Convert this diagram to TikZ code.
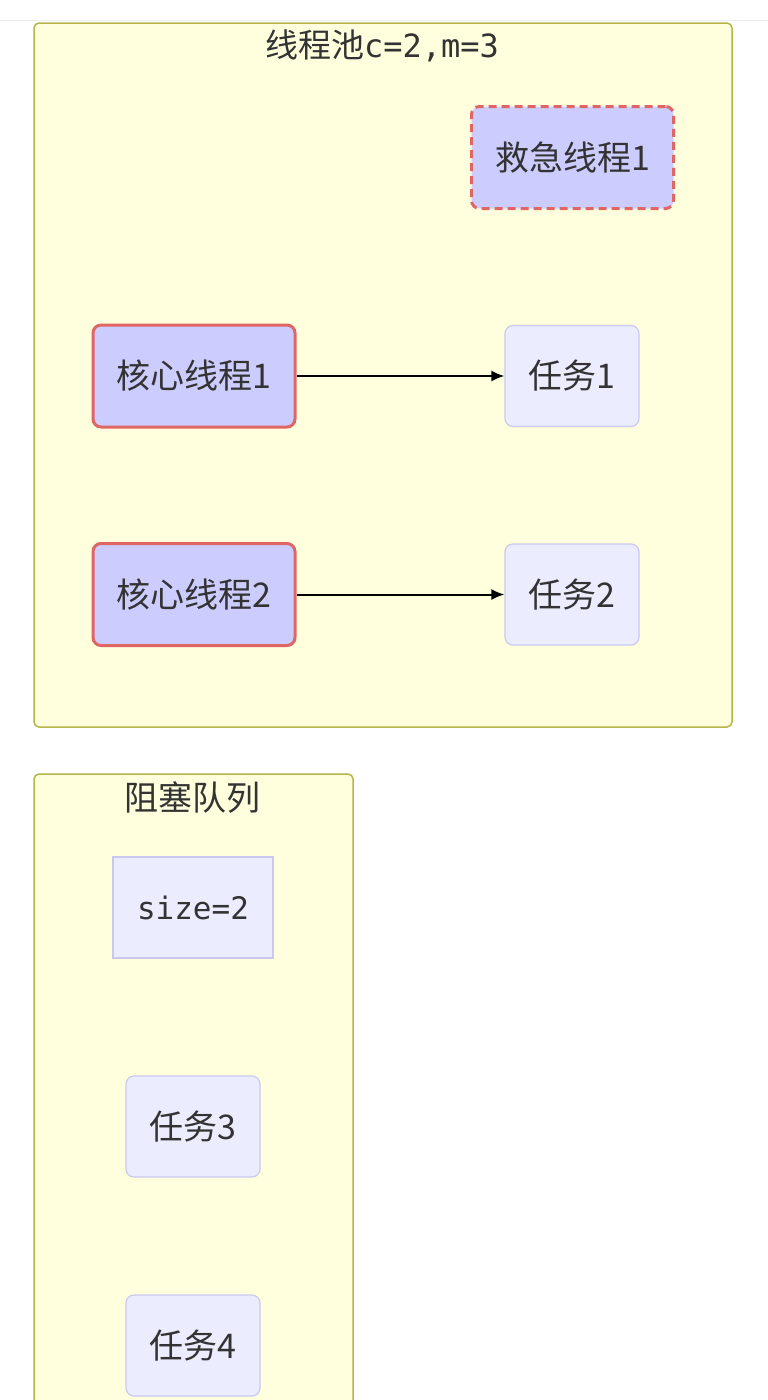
\documentclass[tikz,border=0pt]{standalone}
\usepackage{fontspec}
\setmainfont{Noto Sans CJK SC}
\setmonofont{DejaVu Sans Mono}
\usetikzlibrary{arrows.meta}
\definecolor{poolfill}{HTML}{FFFFDE}
\definecolor{pooldraw}{HTML}{B5B54A}
\definecolor{threadfill}{HTML}{CCCCFF}
\definecolor{threaddraw}{HTML}{E06666}
\definecolor{taskfill}{HTML}{ECECFF}
\definecolor{taskdraw}{HTML}{C9C9F0}
\definecolor{txt}{HTML}{333333}

\begin{document}
\begin{tikzpicture}[x=1pt, y=-1pt,
    every node/.style={font=\fontsize{34}{40}\selectfont, text=txt},
    pool/.style={draw=pooldraw, fill=poolfill, line width=1.5pt, rounded corners=5pt, inner sep=0pt},
    thread/.style={draw=threaddraw, fill=threadfill, line width=3pt, rounded corners=8pt, minimum width=202pt, minimum height=102pt, inner sep=0pt},
    spare/.style={thread, dash pattern=on 8pt off 5pt},
    task/.style={draw=taskdraw, fill=taskfill, line width=1.2pt, rounded corners=8pt, minimum width=134pt, minimum height=101pt, inner sep=0pt},
    queuesize/.style={task, rounded corners=0pt, minimum width=160pt, font=\ttfamily\fontsize{31}{37}\selectfont},
    link/.style={-{Latex[length=13pt,width=11pt]}, line width=2pt}]
    \useasboundingbox (0,0) rectangle (768,1400);
    \fill[white] (0,0) rectangle (768,1400);
    \draw[black!8, line width=1pt] (0,20) -- (768,20);

    \node[pool, minimum width=698pt, minimum height=704pt] (pool) at (383,375) {};
    \node[font=\fontsize{33}{39}\selectfont] (pooltitle) at (382,46) {线程池{\ttfamily\fontsize{32}{39}\selectfont c=2,m=3}};
    \node[pool, minimum width=319pt, minimum height=640pt] (queue) at (193.5,1094) {};
    \node (queuetitle) at (192,798) {阻塞队列};

    \node[spare] (spare1) at (572.5,157.5) {救急线程1};
    \node[thread] (core1) at (194,376) {核心线程1};
    \node[thread] (core2) at (194,594.5) {核心线程2};
    \node[task] (task1) at (572,376) {任务1};
    \node[task] (task2) at (572,594.5) {任务2};
    \node[queuesize] (size) at (193,907.5) {size=2};
    \node[task] (task3) at (193,1126.5) {任务3};
    \node[task] (task4) at (193,1345.5) {任务4};

    \draw[link] (core1) -- (task1);
    \draw[link] (core2) -- (task2);
\end{tikzpicture}
\end{document}
